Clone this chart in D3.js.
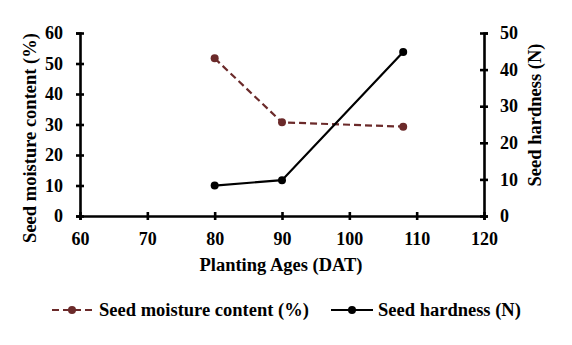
<!DOCTYPE html>
<html lang="en">
<head>
<meta charset="utf-8">
<script src="https://cdn.jsdelivr.net/npm/d3@7"></script>
<style>
  body{margin:0;background:#fff;}
  text{font-family:"Liberation Serif","Times New Roman",serif;font-weight:bold;fill:#000;}
</style>
</head>
<body>
<div id="chart"></div>
<script>
  // data
  var ages=[80,90,108];
  var moisture=[51.7,30.7,29.3];
  var hardness=[8.3,9.8,44.8];
  var xTicks=[60,70,80,90,100,110,120];
  var yLeftTicks=[0,10,20,30,40,50,60];
  var yRightTicks=[0,10,20,30,40,50];

  var W=572,H=345;
  var svg=d3.select("#chart").append("svg").attr("width",W).attr("height",H);

  var x=d3.scaleLinear().domain([60,120]).range([80,484]);
  var yL=d3.scaleLinear().domain([0,60]).range([216,33]);
  var yR=d3.scaleLinear().domain([0,50]).range([216,33]);

  var brown="#6b2a2a";

  //Axes
  var xAxis=svg.append("g").attr("transform","translate(0,216)")
    .call(d3.axisBottom(x).tickValues(xTicks).tickSize(4).tickPadding(12));
  xAxis.selectAll(".tick line").attr("y1",-4);
  var lAxis=svg.append("g").attr("transform","translate(80,0)")
    .call(d3.axisLeft(yL).tickValues(yLeftTicks).tickSize(4).tickPadding(13));
  lAxis.selectAll(".tick line").attr("x1",4);
  var rAxis=svg.append("g").attr("transform","translate(484,0)")
    .call(d3.axisRight(yR).tickValues(yRightTicks).tickSize(4).tickPadding(12));
  rAxis.selectAll(".tick line").attr("x1",-4);

  svg.selectAll(".domain").attr("stroke","#000").attr("stroke-width",2.6);
  svg.selectAll(".tick line").attr("stroke","#000").attr("stroke-width",2.6);
  svg.selectAll(".tick text").style("font-size","18px").style("font-family","Liberation Serif").style("font-weight","bold").attr("fill","#000");

  //Axis titles
  svg.append("text").attr("x",281).attr("y",271).attr("text-anchor","middle")
    .style("font-size","18.5px").text("Planting Ages (DAT)");
  svg.append("text").attr("transform","translate(36,138) rotate(-90)").attr("text-anchor","middle")
    .style("font-size","18.5px").text("Seed moisture content (%)");
  svg.append("text").attr("transform","translate(541,115) rotate(-90)").attr("text-anchor","middle")
    .style("font-size","18.5px").text("Seed hardness (N)");

  //Lines
  var lineL=d3.line().x(function(d,i){return x(ages[i]);}).y(function(d){return yL(d);});
  var lineR=d3.line().x(function(d,i){return x(ages[i]);}).y(function(d){return yR(d);});

  svg.append("path").attr("d",lineL(moisture)).attr("fill","none")
    .attr("stroke",brown).attr("stroke-width",2.2).attr("stroke-dasharray","7,4");
  svg.selectAll(".mpt").data(moisture).enter().append("circle")
    .attr("cx",function(d,i){return x(ages[i]);}).attr("cy",function(d){return yL(d);})
    .attr("r",4).attr("fill",brown);

  svg.append("path").attr("d",lineR(hardness)).attr("fill","none")
    .attr("stroke","#000").attr("stroke-width",2.2);
  svg.selectAll(".hpt").data(hardness).enter().append("circle")
    .attr("cx",function(d,i){return x(ages[i]);}).attr("cy",function(d){return yR(d);})
    .attr("r",4).attr("fill","#000");

  //Legend
  var lg=svg.append("g");
  lg.append("line").attr("x1",52).attr("x2",95).attr("y1",310).attr("y2",310)
    .attr("stroke",brown).attr("stroke-width",2.2).attr("stroke-dasharray","7,4");
  lg.append("circle").attr("cx",72).attr("cy",310).attr("r",4).attr("fill",brown);
  lg.append("text").attr("x",99).attr("y",316).style("font-size","18.5px").text("Seed moisture content (%)");
  lg.append("line").attr("x1",331).attr("x2",373).attr("y1",310).attr("y2",310)
    .attr("stroke","#000").attr("stroke-width",2.2);
  lg.append("circle").attr("cx",352).attr("cy",310).attr("r",4).attr("fill","#000");
  lg.append("text").attr("x",378).attr("y",316).style("font-size","18.5px").text("Seed hardness (N)");
</script>
</body>
</html>
